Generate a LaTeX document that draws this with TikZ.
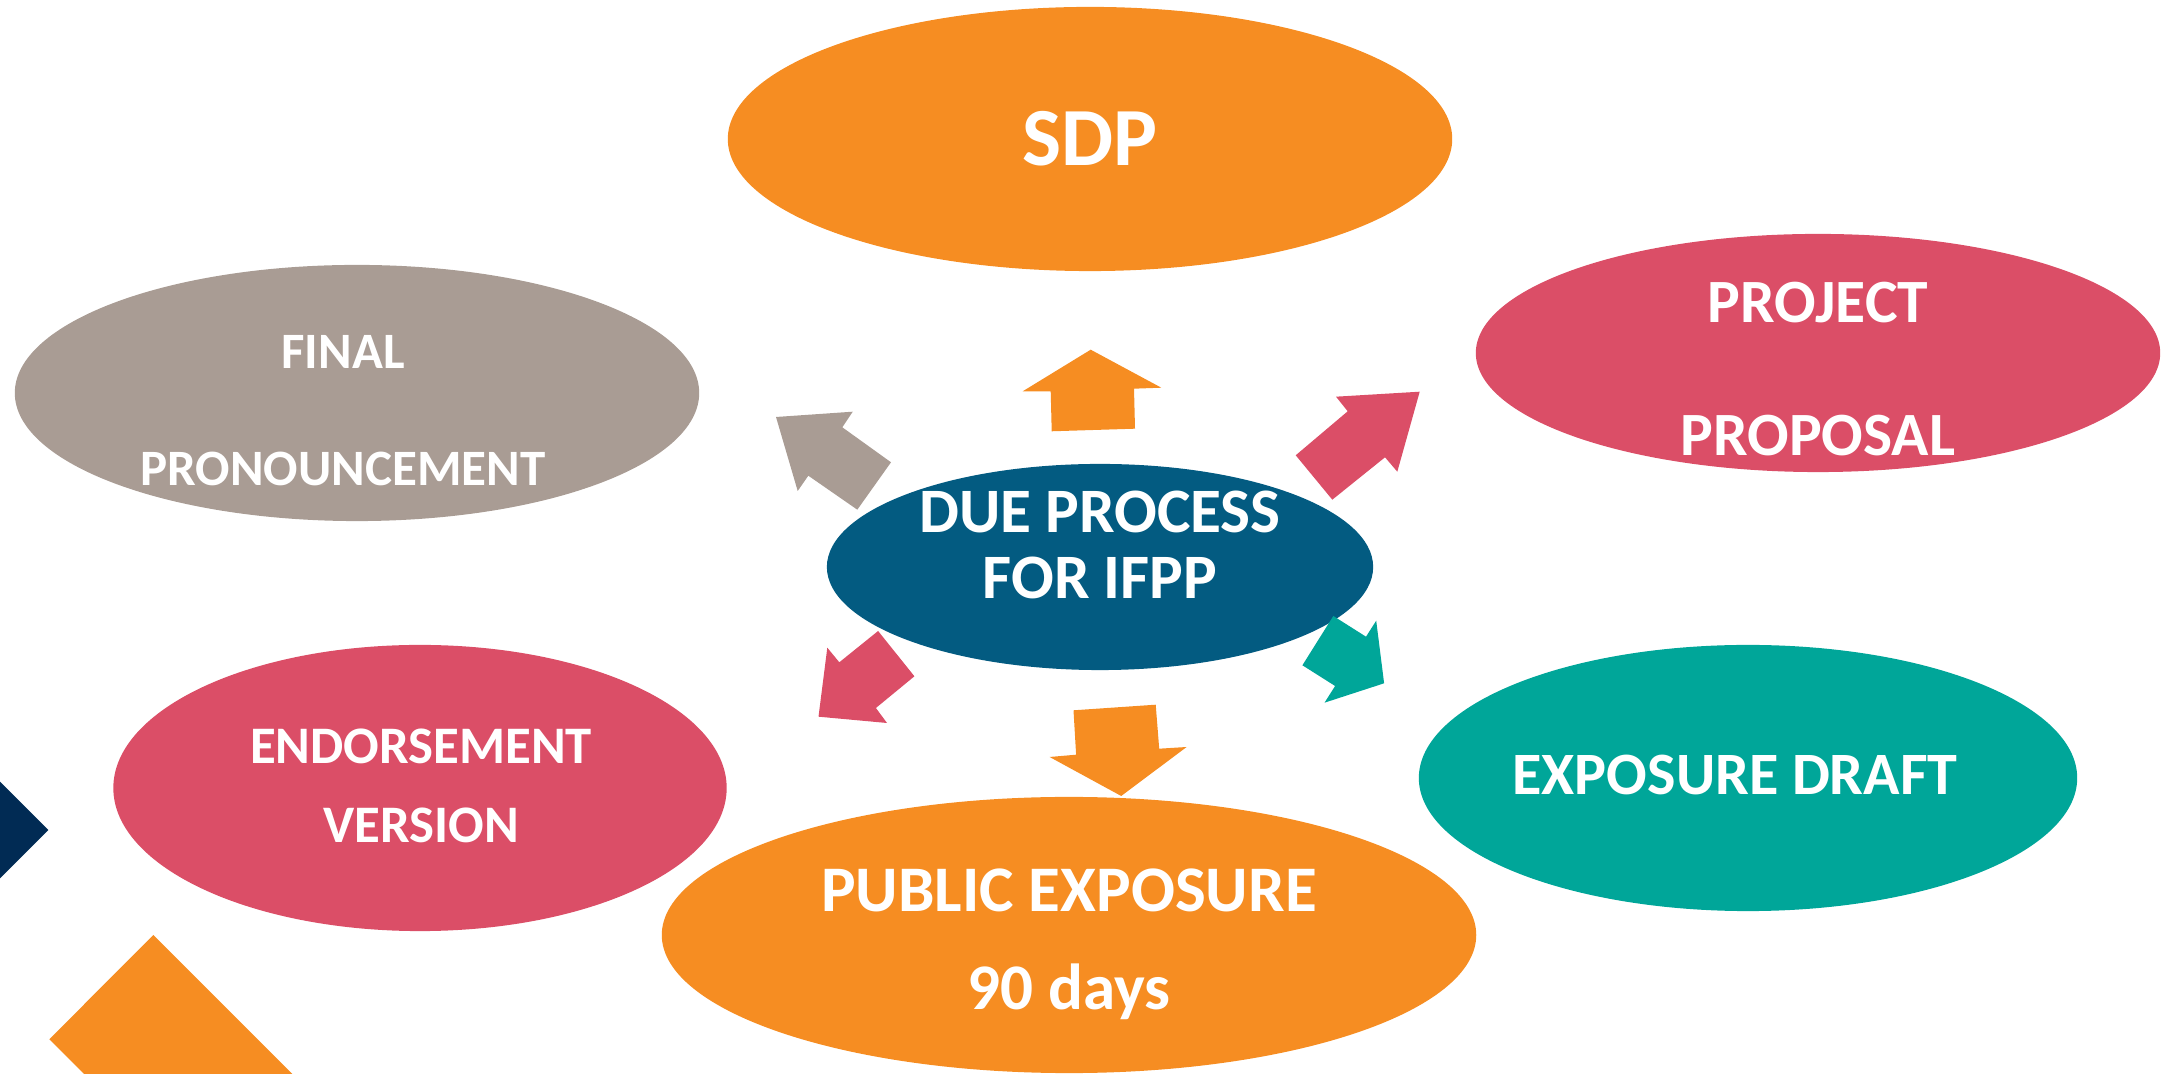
\documentclass[tikz,border=0pt]{standalone}
\usepackage{fontspec}
\setmainfont{Carlito}
\usepackage{xcolor}
\usetikzlibrary{shapes.geometric}

\definecolor{ifporange}{HTML}{F68D22}
\definecolor{ifppink}{HTML}{DB4E67}
\definecolor{ifpgray}{HTML}{A99C94}
\definecolor{ifpblue}{HTML}{035B81}
\definecolor{ifpteal}{HTML}{00A699}
\definecolor{ifpnavy}{HTML}{012B54}

\begin{document}
\begin{tikzpicture}[x=0.01cm,y=-0.01cm]
  \tikzstyle{stage}=[ellipse,inner sep=0pt,draw=none]
  \tikzstyle{stagetext}=[inner sep=0pt,text=white,align=center]
  \tikzstyle{blockarrow}=[draw=none]

  \useasboundingbox (0,0) rectangle (2161,1074);
  \clip (0,0) rectangle (2161,1074);

  % corner pieces
  \fill[ifpnavy] (-68.3,830) -- (-10,771.7) -- (48.3,830) -- (-10,888.3) -- cycle;
  \fill[ifporange] (153.3,935) -- (49.3,1039.3) -- (249.3,1239.3) -- (353.3,1135) -- cycle;

  % stages
  \node[stage,fill=ifporange,minimum width=7.24cm,minimum height=2.64cm] (sdp) at (1090,139) {};
  \node[stage,fill=ifppink,minimum width=6.84cm,minimum height=2.38cm] (proposal) at (1818,353) {};
  \node[stage,fill=ifpgray,minimum width=6.84cm,minimum height=2.56cm] (final) at (357,393) {};
  \node[stage,fill=ifpblue,minimum width=5.46cm,minimum height=2.06cm] (due) at (1100,567) {};
  \node[stage,fill=ifppink,minimum width=6.13cm,minimum height=2.86cm] (endorse) at (420,788) {};
  \node[stage,fill=ifpteal,minimum width=6.58cm,minimum height=2.66cm] (draft) at (1748,778) {};
  \node[stage,fill=ifporange,minimum width=8.14cm,minimum height=2.76cm] (public) at (1069,935) {};

  % labels
  \node[stagetext,font=\bfseries\fontsize{23.5}{28}\selectfont] (sdp-text) at (1090,139) {SDP};
  \node[stagetext,font=\bfseries\fontsize{17.5}{38}\selectfont] (proposal-text) at (1818,369) {PROJECT\\PROPOSAL};
  \node[stagetext,font=\bfseries\fontsize{14.5}{33.3}\selectfont] (final-text) at (343,411) {FINAL\\PRONOUNCEMENT};
  \node[stagetext,font=\bfseries\fontsize{18}{18.8}\selectfont] (due-text) at (1100,545) {DUE PROCESS\\FOR IFPP};
  \node[stagetext,font=\bfseries\fontsize{15}{22.6}\selectfont] (endorse-text) at (421,786) {ENDORSEMENT\\VERSION};
  \node[stagetext,font=\bfseries\fontsize{17.1}{20}\selectfont] (draft-text) at (1735,775) {EXPOSURE DRAFT};
  \node[stagetext,font=\bfseries\fontsize{18.5}{27.9}\selectfont] (public-text) at (1069,944) {PUBLIC EXPOSURE\\90 days};

  % block arrows
  \fill[blockarrow,ifpgray] (776,417) -- (852.7,411.7) -- (842.3,427.3) -- (891,462.3)
    -- (857.3,509.7) -- (808.3,475.7) -- (797.7,491) -- cycle;
  \fill[blockarrow,ifporange] (1090.7,349.7) -- (1161.3,387.7) -- (1134,388.7) -- (1135,428.7)
    -- (1051.7,431.3) -- (1050.7,391.3) -- (1022.7,391.3) -- cycle;
  \fill[blockarrow,ifppink] (1419.7,391.7) -- (1397.3,471.7) -- (1385,457.3) -- (1332.3,499.7)
    -- (1295.7,455.3) -- (1347.7,411.3) -- (1336,396.7) -- cycle;
  \fill[blockarrow,ifppink] (818.5,716.7) -- (887,723) -- (875.9,708) -- (914.4,676.3)
    -- (878.1,631) -- (839.3,662.3) -- (827.3,647.7) -- cycle;
  \fill[blockarrow,ifporange] (1121.2,796) -- (1186.6,747) -- (1159.2,748.7) -- (1155.7,704.7)
    -- (1073.5,710.3) -- (1076.1,754.7) -- (1049.6,757) -- cycle;
  \fill[blockarrow,ifpteal] (1384.1,683.3) -- (1324.5,702.7) -- (1335.1,686) -- (1302.4,665.3)
    -- (1333.3,616) -- (1366,636.7) -- (1376.2,620.7) -- cycle;
\end{tikzpicture}
\end{document}
